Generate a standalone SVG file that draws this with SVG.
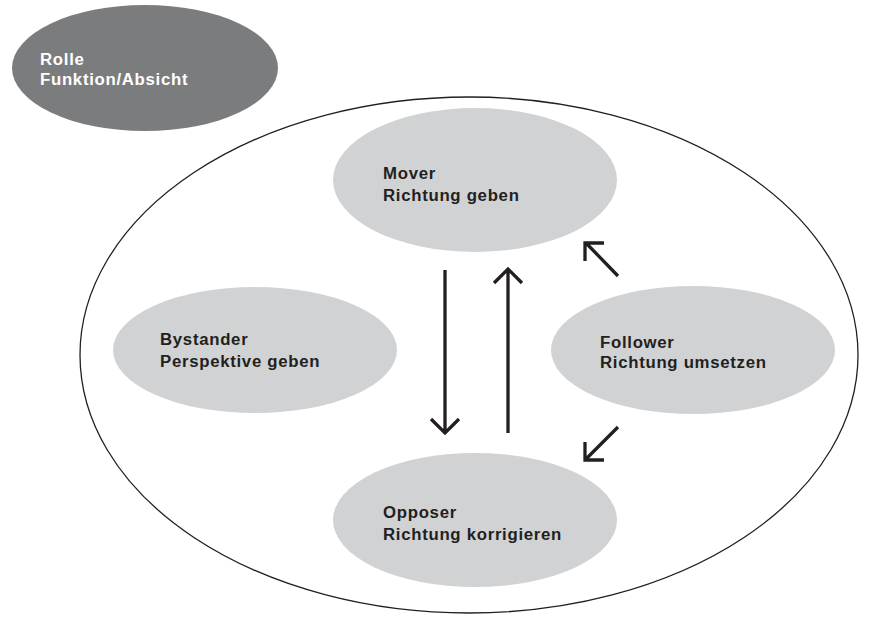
<svg xmlns="http://www.w3.org/2000/svg" width="870" height="623" viewBox="0 0 870 623">
<style>
.lt{fill:#d1d2d4}
.t{font-family:"Liberation Sans",Arial,sans-serif;font-weight:bold;font-size:16.8px;letter-spacing:0.7px;fill:#231f20}
.w{fill:#ffffff}
.c{stroke:#231f20;stroke-width:3.3;fill:none;stroke-linecap:butt;stroke-linejoin:miter}
</style>
<rect width="870" height="623" fill="#ffffff"/>
<g id="legend">
<ellipse cx="145" cy="68" rx="133" ry="63" fill="#7b7c7e"/>
<text class="t w" x="40" y="65">Rolle</text>
<text class="t w" x="40" y="85">Funktion/Absicht</text>
</g>
<g id="frame">
<ellipse cx="469" cy="355" rx="389" ry="258" fill="none" stroke="#231f20" stroke-width="1.3"/>
</g>
<g id="mover">
<ellipse class="lt" cx="475" cy="180" rx="142" ry="72"/>
<text class="t" x="383" y="179">Mover</text>
<text class="t" x="383" y="201">Richtung geben</text>
</g>
<g id="bystander">
<ellipse class="lt" cx="255" cy="350" rx="142" ry="63"/>
<text class="t" x="160" y="345">Bystander</text>
<text class="t" x="160" y="367">Perspektive geben</text>
</g>
<g id="follower">
<ellipse class="lt" cx="693" cy="350" rx="142" ry="64"/>
<text class="t" x="600" y="348">Follower</text>
<text class="t" x="600" y="368">Richtung umsetzen</text>
</g>
<g id="opposer">
<ellipse class="lt" cx="475" cy="520" rx="142" ry="67"/>
<text class="t" x="383" y="518">Opposer</text>
<text class="t" x="383" y="540">Richtung korrigieren</text>
</g>
<g id="connectors">
<path class="c" d="M445 270V433M431 419L445 433L459 419"/>
<path class="c" d="M508 433V269M494 283L508 269L522 283"/>
<path class="c" d="M618 276L586 243M585 261V243H604"/>
<path class="c" d="M618 427L586 459M585 442V460H604"/>
</g>
</svg>
